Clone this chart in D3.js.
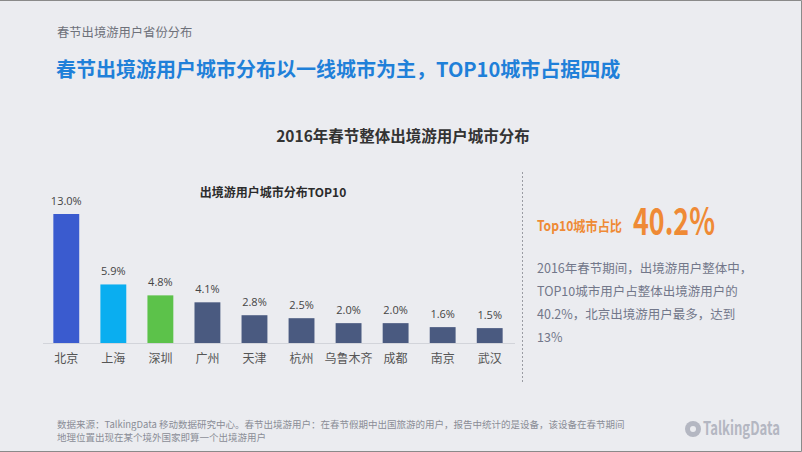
<!DOCTYPE html>
<html>
<head>
<meta charset="utf-8">
<script src="https://cdn.jsdelivr.net/npm/d3@7"></script>
<style>
  body { margin: 0; background: #ebecf0; }
  svg { display: block; font-family: "Noto Sans CJK SC", "Noto Sans", sans-serif; }
</style>
</head>
<body>
<svg width="802" height="452"></svg>
<script>
// data
var cities = ["北京", "上海", "深圳", "广州", "天津", "杭州", "乌鲁木齐", "成都", "南京", "武汉"];
var shares = [13.0, 5.9, 4.8, 4.1, 2.8, 2.5, 2.0, 2.0, 1.6, 1.5];
var barColors = ["#3a5bcf", "#0aaef0", "#5cc24a", "#4a5a80", "#4a5a80", "#4a5a80", "#4a5a80", "#4a5a80", "#4a5a80", "#4a5a80"];
var noteLines = ["2016年春节期间，出境游用户整体中，", "TOP10城市用户占整体出境游用户的", "40.2%，北京出境游用户最多，达到", "13%"];
var footLines = ["数据来源：TalkingData 移动数据研究中心。春节出境游用户：在春节假期中出国旅游的用户，报告中统计的是设备，该设备在春节期间",
                 "地理位置出现在某个境外国家即算一个出境游用户"];

var svg = d3.select("svg");
var w = 802, h = 452;

// frame
svg.append("rect").attr("x", 0).attr("y", 0).attr("width", w).attr("height", h).attr("fill", "#ebecf0");
svg.append("path")
  .attr("d", "M0,0.5H801.5V451.5H0")
  .attr("fill", "none").attr("stroke", "#8a8a8a").attr("stroke-width", 1);

// headers
svg.append("text").attr("x", 57).attr("y", 37)
  .attr("font-size", 12.3).attr("fill", "#6e717a")
  .text("春节出境游用户省份分布");
svg.append("text").attr("x", 56).attr("y", 77)
  .attr("font-size", 20).attr("font-weight", "bold").attr("fill", "#1f80d9")
  .text("春节出境游用户城市分布以一线城市为主，TOP10城市占据四成");

svg.append("text").attr("x", 403).attr("y", 142)
  .attr("text-anchor", "middle").attr("font-size", 15.5).attr("font-weight", "bold").attr("fill", "#333")
  .text("2016年春节整体出境游用户城市分布");

svg.append("text").attr("x", 273).attr("y", 197)
  .attr("text-anchor", "middle").attr("font-size", 12).attr("font-weight", "bold").attr("fill", "#2b2b2b")
  .text("出境游用户城市分布TOP10");

// chart
var x = d3.scaleBand().domain(cities).range([43, 513]).paddingInner(0.45).paddingOuter(0.22);
var y = d3.scaleLinear().domain([0, 13]).range([343, 214]);

var chart = svg.append("g");

chart.selectAll("rect.bar")
  .data(shares)
  .enter()
  .append("rect")
  .attr("class", "bar")
  .attr("x", function(d, i) { return x(cities[i]); })
  .attr("y", function(d) { return y(d); })
  .attr("width", x.bandwidth())
  .attr("height", function(d) { return y(0) - y(d); })
  .attr("fill", function(d, i) { return barColors[i]; });

chart.selectAll("text.val")
  .data(shares)
  .enter()
  .append("text")
  .attr("class", "val")
  .attr("x", function(d, i) { return x(cities[i]) + x.bandwidth() / 2; })
  .attr("y", function(d) { return y(d) - 9; })
  .attr("text-anchor", "middle")
  .attr("font-size", 11).attr("fill", "#444")
  .style("font-family", "'Open Sans', sans-serif")
  .text(function(d) { return d.toFixed(1) + "%"; });

// baseline axis
var xAxis = chart.append("g")
  .attr("transform", "translate(0," + y(0) + ")")
  .call(d3.axisBottom(x).tickSize(0).tickPadding(11));
xAxis.select(".domain").attr("stroke", "#d2d4da").attr("d", "M43,0.5H515");
xAxis.selectAll("text")
  .attr("font-size", 12).attr("fill", "#555")
  .style("font-family", "'Noto Sans CJK SC', sans-serif");

// dashed divider
svg.append("line")
  .attr("x1", 522.5).attr("x2", 522.5).attr("y1", 172).attr("y2", 382)
  .attr("stroke", "#9a9ca3").attr("stroke-dasharray", "2,2");

// right panel
svg.append("text").attr("x", 537).attr("y", 231)
  .attr("font-size", 14).attr("font-weight", "bold").attr("fill", "#ef8a35")
  .attr("textLength", 85).attr("lengthAdjust", "spacingAndGlyphs")
  .text("Top10城市占比");
svg.append("text").attr("x", 633).attr("y", 235)
  .attr("font-size", 38).attr("font-weight", "bold").attr("fill", "#ef8a35")
  .attr("textLength", 82).attr("lengthAdjust", "spacingAndGlyphs")
  .text("40.2%");

svg.append("g").selectAll("text")
  .data(noteLines)
  .enter()
  .append("text")
  .attr("x", 537)
  .attr("y", function(d, i) { return 273 + i * 23; })
  .attr("font-size", 12.5).attr("fill", "#72778a")
  .text(function(d) { return d; });

// footer
svg.append("g").selectAll("text")
  .data(footLines)
  .enter()
  .append("text")
  .attr("x", 57)
  .attr("y", function(d, i) { return 428 + i * 13; })
  .attr("font-size", 9.5).attr("fill", "#8a8d96")
  .text(function(d) { return d; });

// logo
var logo = svg.append("g").attr("transform", "translate(693,429)");
logo.append("circle").attr("r", 8).attr("fill", "#b4b7c2");
logo.append("circle").attr("r", 3).attr("fill", "#ebecf0");
logo.append("g").attr("transform", "translate(10,6) scale(1,1.3)")
  .append("text")
  .attr("font-size", 14).attr("font-weight", "bold").attr("fill", "#b4b7c2")
  .attr("textLength", 77).attr("lengthAdjust", "spacingAndGlyphs")
  .text("TalkingData");
</script>
</body>
</html>
